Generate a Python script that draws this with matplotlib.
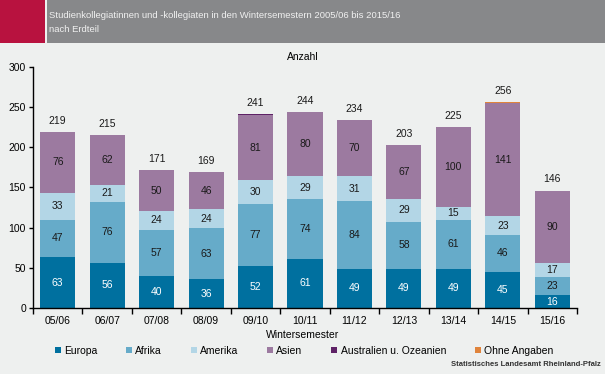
import matplotlib
matplotlib.use("Agg")
import matplotlib.pyplot as plt
import numpy as np
from matplotlib.patches import Rectangle

plt.rcParams['font.family'] = ['Liberation Sans', 'DejaVu Sans']

categories = ["05/06", "06/07", "07/08", "08/09", "09/10", "10/11", "11/12", "12/13", "13/14", "14/15", "15/16"]
europa = [63, 56, 40, 36, 52, 61, 49, 49, 49, 45, 16]
afrika = [47, 76, 57, 63, 77, 74, 84, 58, 61, 46, 23]
amerika = [33, 21, 24, 24, 30, 29, 31, 29, 15, 23, 17]
asien = [76, 62, 50, 46, 81, 80, 70, 67, 100, 141, 90]
australien = [0, 0, 0, 0, 1, 0, 0, 0, 0, 0, 0]
ohne = [0, 0, 0, 0, 0, 0, 0, 0, 0, 1, 0]
series_names = ["Europa", "Afrika", "Amerika", "Asien", "Australien u. Ozeanien", "Ohne Angaben"]
colors = ["#00709f", "#66abc9", "#b3d6e6", "#9c7aa0", "#5e2266", "#e0843c"]
label_colors = ["white", "#1a1a1a", "#1a1a1a", "#1a1a1a", None, None]

bg = "#eef0ef"
fig = plt.figure(figsize=(6.05, 3.74), dpi=100, facecolor=bg)

# header
fig.patches.append(Rectangle((0, 1 - 42.5/374), 45/605, 42.5/374, transform=fig.transFigure,
                             facecolor="#b8123f", edgecolor="none"))
fig.patches.append(Rectangle((47/605, 1 - 42.5/374), 1 - 47/605, 42.5/374, transform=fig.transFigure,
                             facecolor="#87888a", edgecolor="none"))
fig.text(49/605, 1 - 15/374, "Studienkollegiatinnen und -kollegiaten in den Wintersemestern 2005/06 bis 2015/16",
         color="#f0f0f0", fontsize=6.8, va="center", ha="left")
fig.text(49/605, 1 - 29/374, "nach Erdteil", color="#f0f0f0", fontsize=6.8, va="center", ha="left")

ax = fig.add_axes([33/605, 66/374, (577-33)/605, (308-66.7)/374])
ax.set_facecolor(bg)
x = np.arange(len(categories))
width = 0.71
bottom = np.zeros(len(categories))
data = [europa, afrika, amerika, asien, australien, ohne]
handles = []
for vals, name, c, lc in zip(data, series_names, colors, label_colors):
    vals = np.array(vals, dtype=float)
    b = ax.bar(x, vals, width, bottom=bottom, color=c, label=name, edgecolor="none")
    handles.append(b)
    if lc is not None:
        for xi, v, bt in zip(x, vals, bottom):
            if v >= 10:
                ax.text(xi, bt + v/2, f"{int(v)}", ha="center", va="center", color=lc, fontsize=7.5)
    bottom += vals

for xi, tot in zip(x, bottom):
    ax.annotate(f"{int(tot)}", (xi, tot), xytext=(0, 8), textcoords="offset points",
                ha="center", va="center", fontsize=7.5, color="#1a1a1a")

ax.set_xlim(-0.5, len(categories) - 0.5)
ax.set_ylim(0, 300)
ax.set_yticks(range(0, 301, 50))
ax.set_xticks(x)
ax.set_xticklabels(categories)
ax.set_xticks(np.arange(-0.5, len(categories)), minor=True)
ax.tick_params(axis="x", which="major", length=0, pad=6, labelsize=7.5)
ax.tick_params(axis="x", which="minor", length=4, width=1)
ax.tick_params(axis="y", length=3, width=1, pad=2, labelsize=7.5)
for s in ["top", "right"]:
    ax.spines[s].set_visible(False)
for s in ["left", "bottom"]:
    ax.spines[s].set_linewidth(1)

fig.text(303/605, 1 - 57/374, "Anzahl", ha="center", va="center", fontsize=7.5)
fig.text(303/605, 1 - 335/374, "Wintersemester", ha="center", va="center", fontsize=7.5)

leg = fig.legend(handles=handles, labels=series_names, loc="center", ncol=6,
                 bbox_to_anchor=(304/605, 1 - 350.5/374), frameon=False, fontsize=7.5,
                 handlelength=0.6, handleheight=0.6, handletextpad=0.3, columnspacing=2.75)

fig.text(601/605, 1 - 365/374, "Statistisches Landesamt Rheinland-Pfalz", ha="right", va="center",
         fontsize=5.5, fontweight="bold", color="#333333")

fig.savefig("out.png", dpi=100, facecolor=bg)
